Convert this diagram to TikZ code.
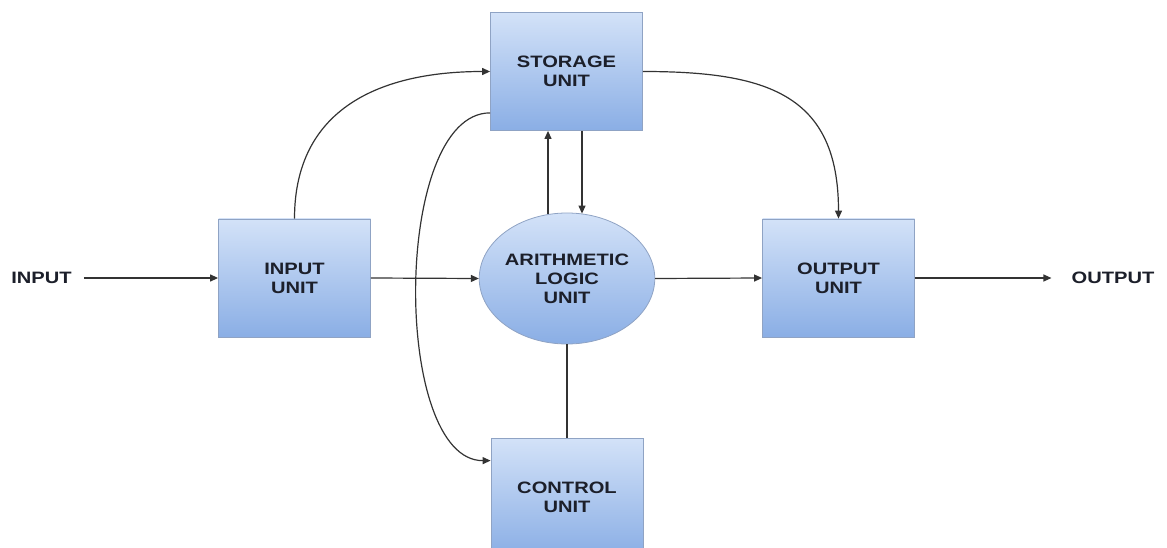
\documentclass[tikz,border=0pt]{standalone}
\usepackage{fontspec}
\setmainfont{Liberation Sans}[FakeStretch=1.22]
\usetikzlibrary{arrows.meta,shapes.geometric}
\definecolor{boxtop}{HTML}{D3E2F8}
\definecolor{boxbot}{HTML}{8AAEE5}
\definecolor{boxline}{HTML}{8FA3C4}
\definecolor{lineclr}{HTML}{333333}
\definecolor{txt}{HTML}{1C1F2A}
\tikzset{
  unitbox/.style={rectangle, minimum width=152pt, minimum height=118pt, inner sep=0pt,
    top color=boxtop, bottom color=boxbot, draw=boxline, line width=0.8pt,
    align=center, font=\fontsize{16.5}{19}\selectfont\bfseries, text=txt},
  alubox/.style={ellipse, minimum width=168pt, minimum height=131pt, inner sep=0pt,
    top color=boxtop, bottom color=boxbot, draw=boxline, line width=0.8pt,
    align=center, font=\fontsize{16.5}{19}\selectfont\bfseries, text=txt},
  extlabel/.style={inner sep=0pt, font=\fontsize{16.5}{19}\selectfont\bfseries, text=txt},
  conn/.style={draw=lineclr, line width=1.2pt},
  arr/.style={conn, -{Triangle[length=8pt,width=7pt]}}
}
\begin{document}
\begin{tikzpicture}[x=1pt,y=-1pt]
\useasboundingbox (0,0) rectangle (1167,548);
\clip (0,0) rectangle (1167,548);
\node[unitbox] (storage) at (566.5,71.5) {STORAGE\\UNIT};
\node[unitbox] (input) at (294.5,278) {INPUT\\UNIT};
\node[unitbox] (output) at (838.5,278) {OUTPUT\\UNIT};
\node[unitbox] (control) at (567,497) {CONTROL\\UNIT};
\node[alubox] (alu) at (567,278.5) {ARITHMETIC\\LOGIC\\UNIT};
\node[extlabel] (intext) at (41.5,278) {INPUT};
\node[extlabel] (outtext) at (1113,278) {OUTPUT};

\draw[arr] (intext.east) ++(12,0) -- (input.west);
\draw[arr] (input.east) -- (alu.west);
\draw[arr] (alu.east) -- (output.west);
\draw[arr, shorten >=20pt] (output.east) -- (outtext.west);
\draw[arr] (input.north) to[out=90,in=180,looseness=1.15] (storage.west);
\draw[arr] (storage.east) to[out=0,in=90,looseness=1.3] (output.north);
\draw[arr] ([yshift=18pt]storage.south west) .. controls (392,113) and (392,461) .. ([yshift=-23pt]control.north west);
\draw[arr] ([xshift=-19pt,yshift=-1pt]alu.north) -- ([xshift=-18.5pt]storage.south);
\draw[arr] ([xshift=15.5pt]storage.south) -- ([xshift=15pt,yshift=-1pt]alu.north);
\draw[conn] (alu.south) -- (control.north);
\end{tikzpicture}
\end{document}
